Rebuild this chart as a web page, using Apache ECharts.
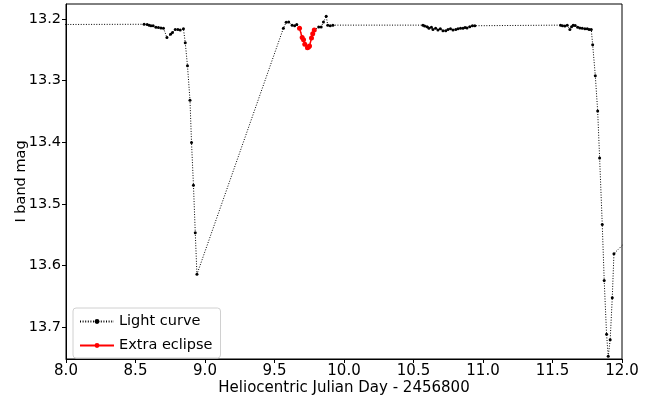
<!DOCTYPE html>
<html>
<head>
<meta charset="utf-8">
<script src="https://cdn.jsdelivr.net/npm/echarts@6/dist/echarts.min.js"></script>
<style>
  html, body { margin: 0; padding: 0; background: #fff; }
  #chart { width: 661px; height: 397px; }
</style>
</head>
<body>
<div id="chart"></div>
<script>
// light curve (day offset, I mag)
var lcDay = [7.90, 8.562, 8.584, 8.598, 8.611, 8.627, 8.647, 8.665, 8.683, 8.701, 8.726, 8.752, 8.766, 8.786, 8.805, 8.822, 8.845,
  8.858, 8.874, 8.892, 8.903, 8.917, 8.930, 8.942,
  9.564, 9.584, 9.602, 9.627, 9.645, 9.660, 9.680, 9.699, 9.709, 9.718, 9.737, 9.745, 9.752, 9.766, 9.775, 9.786,
  9.818, 9.836, 9.852, 9.872, 9.883, 9.901, 9.920,
  10.568, 10.580, 10.597, 10.611, 10.629, 10.640, 10.659, 10.676, 10.693, 10.712, 10.732, 10.748, 10.766, 10.784,
  10.804, 10.820, 10.838, 10.856, 10.871, 10.885, 10.905, 10.924, 10.941,
  11.558, 11.572, 11.589, 11.606, 11.625, 11.637, 11.649, 11.663, 11.681, 11.697, 11.714, 11.733, 11.750, 11.764, 11.779,
  11.789, 11.808, 11.825, 11.839, 11.858, 11.872, 11.889, 11.901, 11.915, 11.930, 11.942, 12.5];
var lcMag = [13.209, 13.2086, 13.209, 13.210, 13.211, 13.211, 13.2135, 13.214, 13.2146, 13.215, 13.230, 13.225, 13.222, 13.217, 13.217, 13.218, 13.216,
  13.2385, 13.276, 13.332, 13.4005, 13.470, 13.547, 13.6146,
  13.215, 13.2054, 13.205, 13.210, 13.211, 13.209, 13.215, 13.230, 13.2336, 13.241, 13.2466, 13.2455, 13.244, 13.231, 13.224, 13.218,
  13.213, 13.213, 13.205, 13.1956, 13.210, 13.211, 13.210,
  13.210, 13.2114, 13.2125, 13.215, 13.2135, 13.217, 13.215, 13.218, 13.216, 13.219, 13.219, 13.217, 13.216, 13.218,
  13.217, 13.216, 13.215, 13.215, 13.214, 13.2146, 13.2125, 13.211, 13.211,
  13.210, 13.211, 13.2114, 13.210, 13.217, 13.2125, 13.210, 13.2105, 13.2135, 13.2146, 13.215, 13.216, 13.216, 13.217, 13.217,
  13.242, 13.292, 13.3496, 13.4255, 13.5338, 13.6244, 13.712, 13.7475, 13.7208, 13.6526, 13.581, 13.455];

// the extra eclipse
var exDay = [9.680, 9.699, 9.709, 9.718, 9.737, 9.745, 9.752, 9.766, 9.775, 9.786];
var exMag = [13.215, 13.230, 13.2336, 13.241, 13.2466, 13.2455, 13.244, 13.231, 13.224, 13.218];

var xTicks = [8.0, 8.5, 9.0, 9.5, 10.0, 10.5, 11.0, 11.5, 12.0];
var yTicks = [13.2, 13.3, 13.4, 13.5, 13.6, 13.7];

function pairs(xs, ys) {
  return xs.map(function (x, i) { return [x, ys[i]]; });
}

var font = 'DejaVu Sans';
var chart = echarts.init(document.getElementById('chart'));

chart.setOption({
  animation: false,
  textStyle: { fontFamily: font },
  grid: { left: 66, right: 39, top: 4, bottom: 38, show: true, borderColor: '#000', borderWidth: 1,
    outerBoundsMode: 'none' },
  legend: {
    orient: 'vertical',
    left: 73, top: 308,
    itemWidth: 34, itemHeight: 6, itemGap: 9,
    padding: [6, 8, 5, 6],
    backgroundColor: '#fff',
    borderColor: '#d0d0d0', borderWidth: 1, borderRadius: 3,
    textStyle: { fontFamily: font, fontSize: 14.5, color: '#000' },
    data: ['Light curve', 'Extra eclipse']
  },
  xAxis: {
    type: 'value',
    min: 8, max: 12, interval: 0.5,
    name: 'Heliocentric Julian Day - 2456800',
    nameLocation: 'middle', nameGap: 22,
    nameMoveOverlap: false,
    nameTextStyle: { fontFamily: font, fontSize: 15, color: '#000' },
    axisLine: { lineStyle: { color: '#000' } },
    axisTick: { show: true, inside: false, length: 4, lineStyle: { color: '#000' }, customValues: xTicks },
    axisLabel: { fontFamily: font, fontSize: 15, color: '#000', margin: 5, customValues: xTicks,
      formatter: function (v) { return v.toFixed(1); } },
    splitLine: { show: false }
  },
  yAxis: {
    type: 'value',
    inverse: true,
    min: 13.1757, max: 13.752,
    name: 'I band mag',
    nameLocation: 'middle', nameGap: 37,
    nameMoveOverlap: false,
    nameTextStyle: { fontFamily: font, fontSize: 14.5, color: '#000' },
    axisLine: { show: true, lineStyle: { color: '#000' } },
    axisTick: { show: true, inside: false, length: 4, lineStyle: { color: '#000' }, customValues: yTicks },
    axisLabel: { fontFamily: font, fontSize: 14.5, color: '#000', margin: 5, customValues: yTicks,
      formatter: function (v) { return v.toFixed(1); } },
    splitLine: { show: false }
  },
  series: [
    {
      name: 'Light curve',
      type: 'line',
      data: pairs(lcDay, lcMag),
      clip: true,
      symbol: 'circle', symbolSize: 3,
      itemStyle: { color: '#000' },
      lineStyle: { color: '#000', width: 1, type: [1, 1.6] }
    },
    {
      name: 'Extra eclipse',
      type: 'line',
      data: pairs(exDay, exMag),
      clip: true,
      symbol: 'circle', symbolSize: 5,
      itemStyle: { color: '#ff0000' },
      lineStyle: { color: '#ff0000', width: 1.5 },
      z: 3
    }
  ]
});
</script>
</body>
</html>
